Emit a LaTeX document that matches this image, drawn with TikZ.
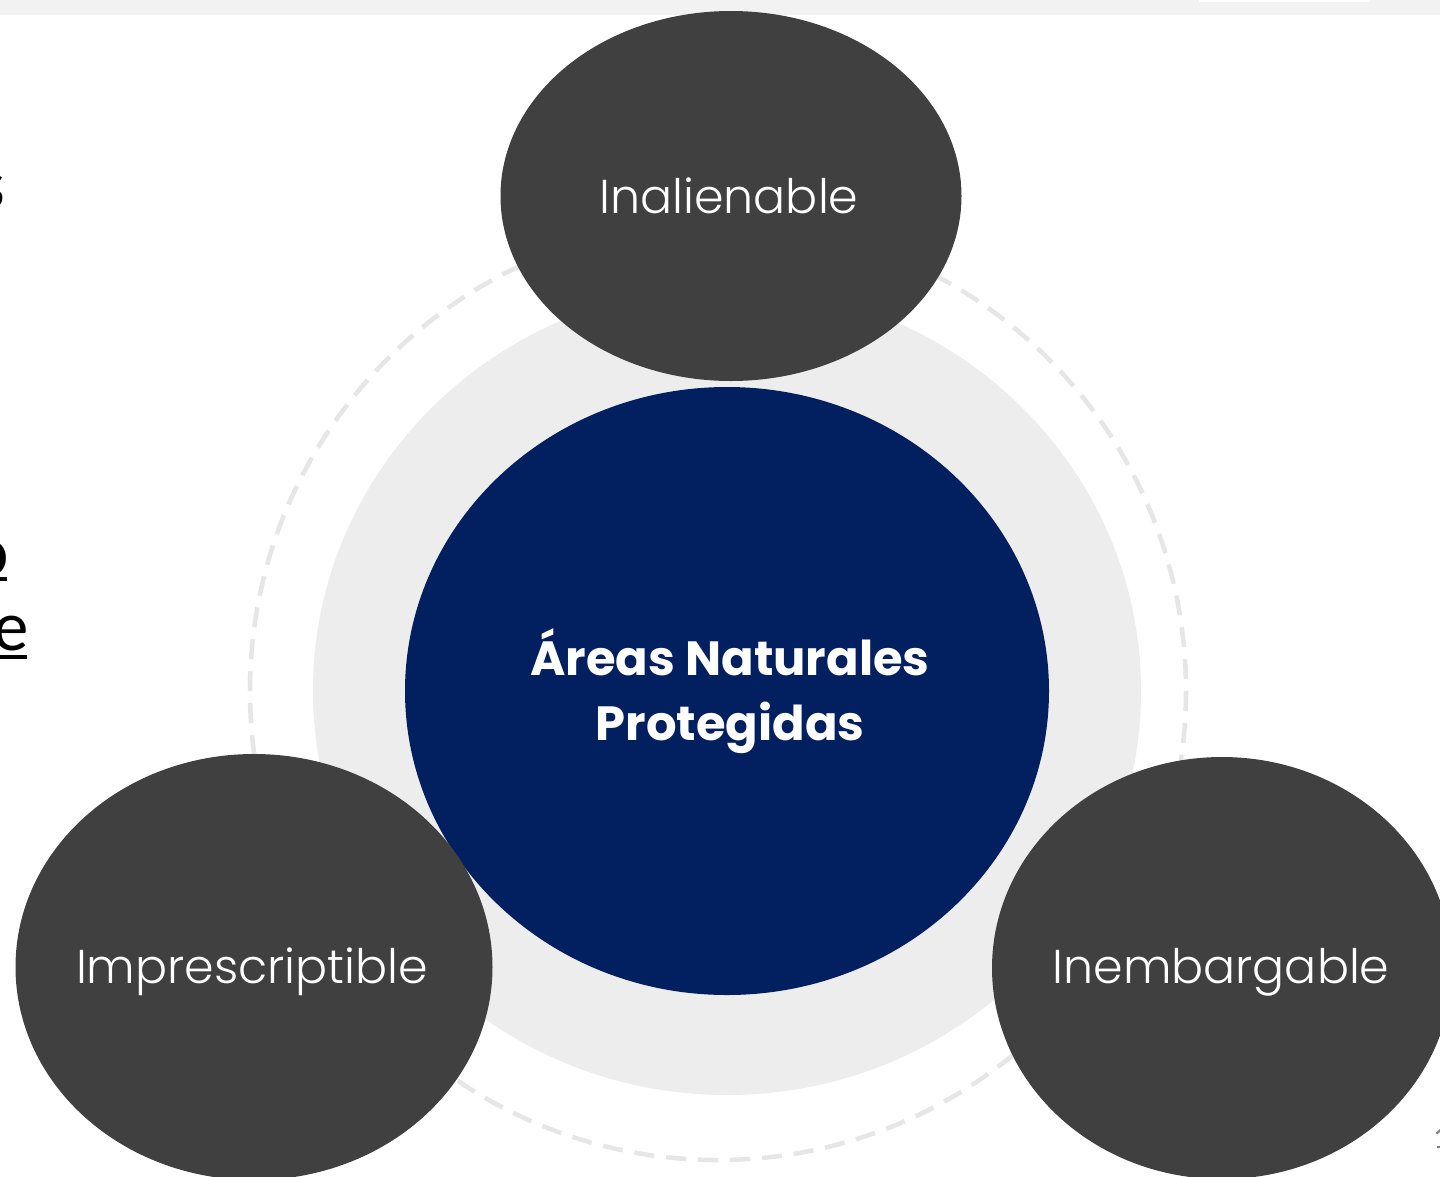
\documentclass[tikz,border=0pt]{standalone}
\usepackage{fontspec}
\setmainfont{Poppins}
\newfontfamily\poplight{Poppins Light}
\newfontfamily\popbold{Poppins Bold}
\newfontfamily\carl{Carlito}
\usetikzlibrary{shapes.geometric}
\definecolor{bar}{HTML}{F2F2F2}
\definecolor{ring}{HTML}{EDEDED}
\definecolor{dashc}{HTML}{E6E6E6}
\definecolor{dgray}{HTML}{404040}
\definecolor{navy}{HTML}{022060}
\tikzset{
  blob/.style={ellipse, fill=dgray, draw=none, inner sep=0pt},
  lighttext/.style={font=\poplight\fontsize{47.5}{56}\selectfont, text=white, anchor=base, inner sep=0pt},
  boldtext/.style={font=\popbold\fontsize{48}{65}\selectfont, text=white, anchor=base, inner sep=0pt, align=center},
  frag/.style={font=\carl\fontsize{71}{80}\selectfont, text=black, anchor=base east, inner sep=0pt},
}
\begin{document}
\begin{tikzpicture}[x=1pt,y=-1pt]
\useasboundingbox (0,0) rectangle (1440,1176);
\clip (0,0) rectangle (1440,1176);
\fill[white] (0,0) rectangle (1440,1176);
% top bar
\fill[bar] (0,0) rectangle (1440,15);
\fill[white] (1199,0) rectangle (1370,2);
% left edge fragments
\node[frag] (fs) at (5,208) {s};
\node[frag] (fo) at (9,575) {o};
\node[frag] (fe) at (29,650) {e};
\draw[line width=3.5pt] (-20,579) -- (7,579);
\draw[line width=3.5pt] (-20,657) -- (27,657);
% rings
\fill[ring] (727,691) ellipse [x radius=414, y radius=404];
\draw[dashc, line width=4.5pt, dash pattern=on 20pt off 12pt] (718,691) ellipse [x radius=468, y radius=469];
% ellipses
\node[blob, minimum width=461pt, minimum height=370pt] (top) at (731,196) {};
\node[ellipse, fill=navy, inner sep=0pt, minimum width=644pt, minimum height=608pt] (center) at (727,691) {};
\node[blob, minimum width=477pt, minimum height=426pt] (left) at (254,967) {};
\node[blob, minimum width=460pt, minimum height=422pt] (right) at (1222,968) {};
% texts
\node[lighttext] (tinal) at (729,213) {Inalienable};
\node[lighttext] (timp) at (252,983) {Imprescriptible};
\node[lighttext] (temb) at (1221,983) {Inembargable};
\node[boldtext] (tc1) at (730,675) {Áreas Naturales};
\node[boldtext] (tc2) at (730,740) {Protegidas};
% slide number fragment
\node[font=\carl\fontsize{32}{36}\selectfont, text=gray, anchor=base west, inner sep=0pt] (num) at (1433,1148) {1};
\end{tikzpicture}
\end{document}
